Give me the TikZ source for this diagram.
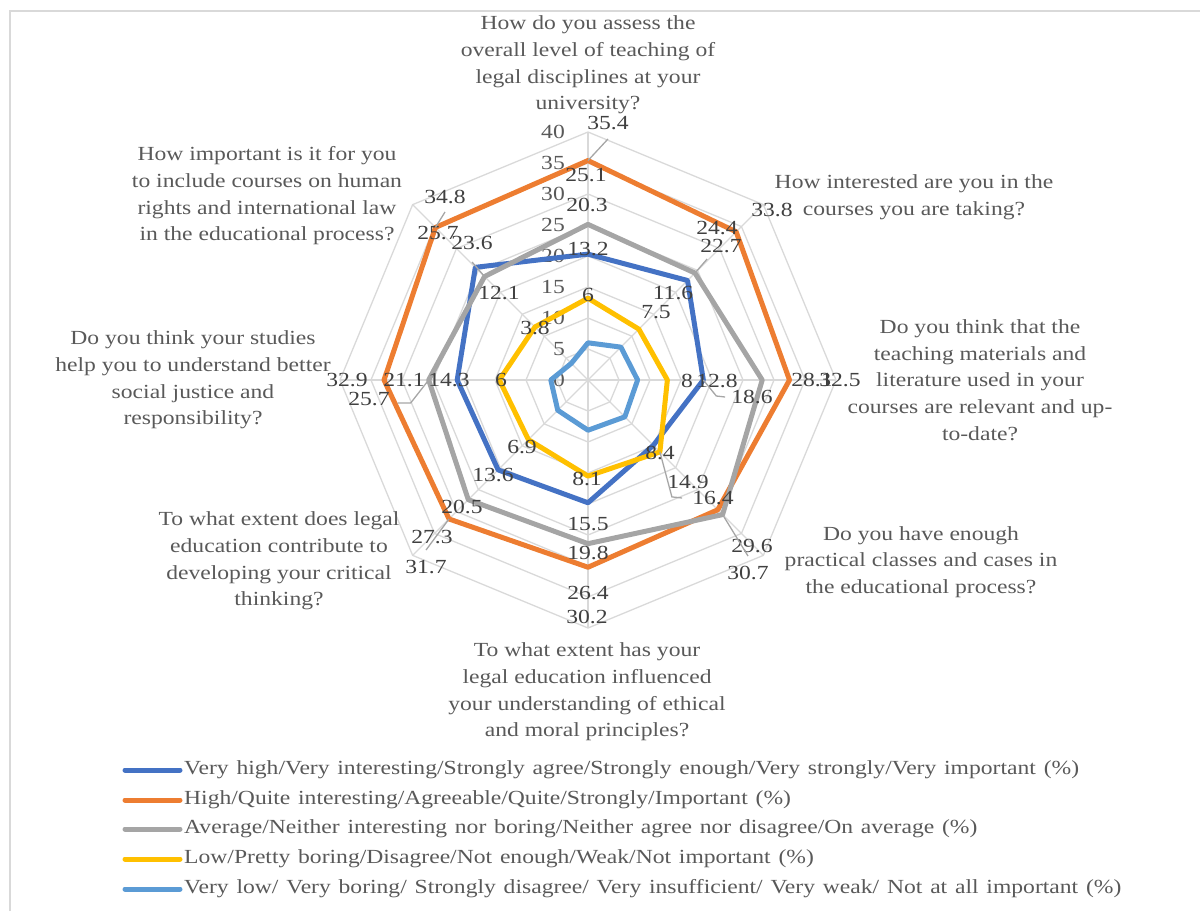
\documentclass[tikz,border=0pt]{standalone}
\usepackage{fontspec}
\setmainfont{Liberation Serif}[FakeStretch=1.18]
\usetikzlibrary{calc}
\definecolor{serblue}{HTML}{4472C4}
\definecolor{serorange}{HTML}{ED7D31}
\definecolor{sergray}{HTML}{A5A5A5}
\definecolor{seryellow}{HTML}{FFC000}
\definecolor{serlblue}{HTML}{5B9BD5}
\definecolor{gridgray}{HTML}{D9D9D9}
\definecolor{leadgray}{HTML}{A6A6A6}
\definecolor{txtgray}{HTML}{595959}
\definecolor{lblgray}{HTML}{404040}
\newcommand\legfont{\fontsize{20}{24}\selectfont\spaceskip=7.8pt plus 1pt\relax}
\tikzset{
  gridln/.style={draw=gridgray,line width=1.3pt},
  serln/.style={line width=5pt,line join=round},
  leadln/.style={draw=leadgray,line width=1.3pt},
  legln/.style={line width=5pt,line cap=round},
  vallbl/.style={font=\fontsize{20}{24}\selectfont,text=lblgray,inner sep=0pt},
  ringlbl/.style={font=\fontsize{20}{24}\selectfont,text=txtgray,inner sep=0pt,anchor=east},
  axlbl/.style={font=\fontsize{20}{26.7}\selectfont,text=txtgray,align=center,inner sep=0pt},
  leglbl/.style={font=\legfont,text=txtgray,inner sep=0pt,anchor=west}
}
\begin{document}
\begin{tikzpicture}[x=1pt,y=-1pt]
  \useasboundingbox (0,0) rectangle (1200,911);
  \draw[gridgray,line width=1.5pt] (10,911) -- (10,11) -- (1200,11);

  \coordinate (c) at (588,380);
  \foreach \j in {1,...,8}
    \draw[gridln] ($(c)+(-90:\j*31)$) \foreach \k in {1,...,7}{ -- ($(c)+(45*\k-90:\j*31)$)} -- cycle;
  \foreach \k in {0,...,7}
    \draw[gridln] (c) -- ($(c)+(45*\k-90:248)$);
  \foreach \j [evaluate=\j as \rv using int(5*\j)] in {0,...,8}
    \node[ringlbl] (ring\j) at (565,380-31*\j) {\rv};

  \foreach \nm/\col/\vals in {
    blu/serblue/{20.3,22.7,18.6,14.9,19.8,20.5,21.1,25.7},
    ora/serorange/{35.4,33.8,32.5,29.6,30.2,31.7,32.9,34.8},
    gry/sergray/{25.1,24.4,28.1,30.7,26.4,27.3,25.7,23.6},
    yel/seryellow/{13.2,11.6,12.8,16.4,15.5,13.6,14.3,12.1},
    lbu/serlblue/{6,7.5,8,8.4,8.1,6.9,6,3.8}}{
    \foreach \v [count=\k from 0] in \vals
      \coordinate (\nm\k) at ($(c)+(45*\k-90:\v*6.2)$);
    \draw[serln,\col] (\nm0) -- (\nm1) -- (\nm2) -- (\nm3) -- (\nm4) -- (\nm5) -- (\nm6) -- (\nm7) -- cycle;
  }

  \foreach \nm/\txt/\px/\py in {
    ora0/35.4/608/123, gry0/25.1/586/175, blu0/20.3/587/205, yel0/13.2/588/249, lbu0/6/588/295,
    ora1/33.8/772/210, gry1/24.4/717/228, blu1/22.7/721/246, yel1/11.6/673/293, lbu1/7.5/656/312,
    lbu2/8/687/381, yel2/12.8/717/381, blu2/18.6/752/397, gry2/28.1/812/380, ora2/32.5/840/380,
    lbu3/8.4/660/453, blu3/14.9/688/482, yel3/16.4/713/498, ora3/29.6/752/546, gry3/30.7/748/573,
    lbu4/8.1/587/479, yel4/15.5/588/524, blu4/19.8/588/553, gry4/26.4/588/593, ora4/30.2/587/617,
    lbu5/6.9/522/447, yel5/13.6/493/475, blu5/20.5/462/507, gry5/27.3/432/537, ora5/31.7/426/567,
    lbu6/6/501/380, yel6/14.3/449/380, blu6/21.1/404/380, gry6/25.7/369/399, ora6/32.9/347/380,
    lbu7/3.8/535/328, yel7/12.1/499/293, gry7/23.6/472/243, blu7/25.7/438/233, ora7/34.8/445/197}
    \node[vallbl] (t\nm) at (\px,\py) {\txt};

  \draw[leadln] (ora0) -- ([yshift=-9pt]tora0.south);
  \draw[leadln] (gry1) -- ([xshift=7pt,yshift=-6pt]tblu1.south west);
  \draw[leadln] (blu2) -- ++(13,16) -- ([xshift=-6pt]tblu2.west);
  \draw[leadln] (yel3) -- ++(12,45) -- ([xshift=-10pt]tyel3.west);
  \draw[leadln] (gry3) -- ([yshift=10pt]tgry3.north);
  \draw[leadln] (ora5) -- ([yshift=10pt]tora5.north);
  \draw[leadln] (gry6) -- ++(-18,23) -- ++(-13,0);
  \draw[leadln] (gry7) -- ([yshift=-12pt]tgry7.south);
  \draw[leadln] (ora7) -- ([yshift=-8pt]tora7.south);

  \node[axlbl] (ax0) at (588,65) {How do you assess the\\overall level of teaching of\\legal disciplines at your\\university?};
  \node[axlbl] (ax1) at (914,197) {How interested are you in the\\courses you are taking?};
  \node[axlbl] (ax2) at (980,380) {Do you think that the\\teaching materials and\\literature used in your\\courses are relevant and up-\\to-date?};
  \node[axlbl] (ax3) at (921,562) {Do you have enough\\practical classes and cases in\\the educational process?};
  \node[axlbl] (ax4) at (587,692) {To what extent has your\\legal education influenced\\your understanding of ethical\\and moral principles?};
  \node[axlbl] (ax5) at (279,561) {To what extent does legal\\education contribute to\\developing your critical\\thinking?};
  \node[axlbl] (ax6) at (193,380) {Do you think your studies\\help you to understand better\\social justice and\\responsibility?};
  \node[axlbl] (ax7) at (267,196) {How important is it for you\\to include courses on human\\rights and international law\\in the educational process?};

  \node[leglbl] (leg0) at (184,770) {Very high/Very interesting/Strongly agree/Strongly enough/Very strongly/Very important (\%)};
  \node[leglbl] (leg1) at (184,800) {High/Quite interesting/Agreeable/Quite/Strongly/Important (\%)};
  \node[leglbl] (leg2) at (184,829) {Average/Neither interesting nor boring/Neither agree nor disagree/On average (\%)};
  \node[leglbl] (leg3) at (184,859) {Low/Pretty boring/Disagree/Not enough/Weak/Not important (\%)};
  \node[leglbl] (leg4) at (184,889) {Very low/ Very boring/ Strongly disagree/ Very insufficient/ Very weak/ Not at all important (\%)};
  \draw[legln,serblue] ([xshift=-59pt]leg0.west) -- ([xshift=-4pt]leg0.west);
  \draw[legln,serorange] ([xshift=-59pt]leg1.west) -- ([xshift=-4pt]leg1.west);
  \draw[legln,sergray] ([xshift=-59pt]leg2.west) -- ([xshift=-4pt]leg2.west);
  \draw[legln,seryellow] ([xshift=-59pt]leg3.west) -- ([xshift=-4pt]leg3.west);
  \draw[legln,serlblue] ([xshift=-59pt]leg4.west) -- ([xshift=-4pt]leg4.west);
\end{tikzpicture}
\end{document}
